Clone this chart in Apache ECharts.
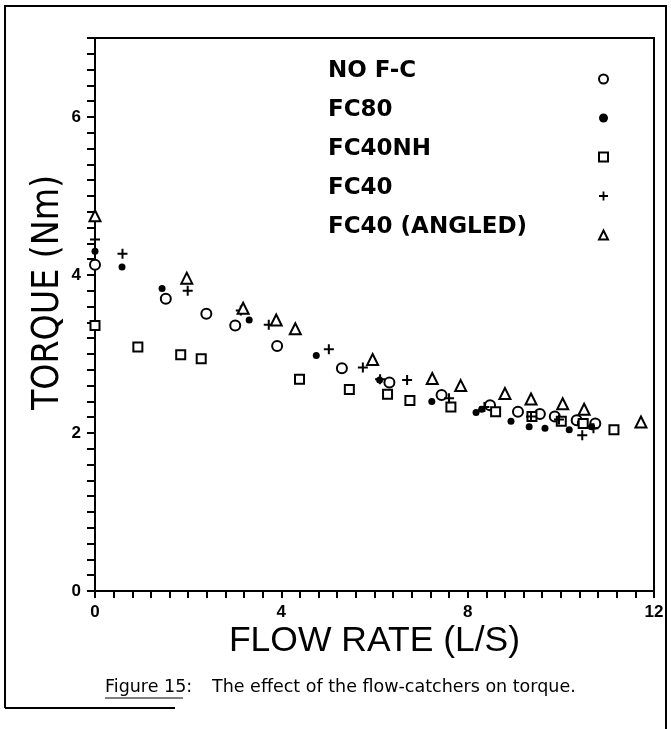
<!DOCTYPE html>
<html lang="en">
<head>
<meta charset="UTF-8">
<title>Figure 15</title>
<style>
body{ margin:0; background:#fff; }
#chart{ width:671px; height:729px; }
</style>
</head>
<body>
<div id="chart"></div>
<script src="https://cdn.jsdelivr.net/npm/echarts@6/dist/echarts.min.js"></script>
<script>
// [flow rate (L/S), torque (Nm)]
var noFc = [[0,4.13],[1.52,3.70],[2.39,3.51],[3.01,3.36],[3.91,3.10],[5.30,2.82],[6.32,2.64],
    [7.44,2.48],[8.48,2.35],[9.08,2.27],[9.55,2.24],[9.87,2.21],[10.34,2.16],[10.74,2.12]];
var fc80 = [[0,4.30],[0.58,4.10],[1.44,3.83],[3.31,3.43],[4.75,2.98],[6.11,2.67],[7.23,2.40],
    [8.18,2.26],[8.30,2.30],[8.93,2.15],[9.32,2.08],[9.66,2.06],[10.18,2.04],[10.42,2.13],[10.66,2.08]];
var fc40nh = [[0,3.36],[0.92,3.09],[1.84,2.99],[2.28,2.94],[4.39,2.68],[5.46,2.55],[6.28,2.49],
    [6.76,2.41],[7.64,2.33],[8.60,2.27],[9.38,2.21],[10.01,2.15],[10.48,2.12],[11.14,2.04]];
var fc40 = [[0,4.45],[0.59,4.27],[1.99,3.80],[3.13,3.55],[3.73,3.37],[5.02,3.06],[5.75,2.83],
    [6.12,2.68],[6.70,2.67],[7.60,2.44],[8.36,2.33],[9.36,2.21],[9.96,2.17],[10.46,1.97],[10.70,2.06]];
var fc40a = [[0,4.75],[1.97,3.96],[3.18,3.58],[3.89,3.43],[4.30,3.32],[5.96,2.93],[7.24,2.69],
    [7.85,2.60],[8.80,2.50],[9.36,2.43],[10.04,2.37],[10.50,2.30],[11.72,2.14]];

var names = ['NO F-C', 'FC80', 'FC40NH', 'FC40', 'FC40 (ANGLED)'];
var xLabels = [0, 4, 8, 12];
var yLabels = [0, 2, 4, 6];

var plus = 'path://M4,0H6V4H10V6H6V10H4V6H0V4H4Z';
var narrow = '"Liberation Sans Narrow", "DejaVu Sans Condensed", sans-serif';

function onList(list, v){
    return list.some(function(t){ return Math.abs(t - v) < 1e-6; });
}

var chart = echarts.init(document.getElementById('chart'));

var option = {
    backgroundColor: '#fff',
    animation: false,
    grid: {
        left: 95, right: 17, top: 38, bottom: 138,
        show: true, borderColor: '#000', borderWidth: 2,
        outerBoundsMode: 'none'
    },
    legend: {
        orient: 'vertical',
        left: 323, top: 55,
        align: 'right',
        itemGap: 1,
        itemWidth: 9, itemHeight: 9,
        selectedMode: false,
        data: names,
        formatter: function(n){ return '{t|' + n + '}'; },
        textStyle: {
            color: '#000',
            rich: {
                t: { width: 266, align: 'left', fontSize: 23, fontWeight: 'bold', lineHeight: 22,
                     fontFamily: 'DejaVu Sans', color: '#000', padding: [0, 0, 15, 0] }
            }
        }
    },
    xAxis: {
        type: 'value', min: 0, max: 12, interval: 0.4,
        name: 'FLOW RATE (L/S)', nameLocation: 'middle', nameGap: 32, nameMoveOverlap: false,
        nameTextStyle: { fontSize: 35.5, fontFamily: 'Liberation Sans', color: '#000' },
        axisLine: { lineStyle: { color: '#000', width: 2 } },
        axisTick: { length: 7, lineStyle: { color: '#000', width: 2 } },
        axisLabel: {
            margin: 13, fontSize: 17, fontWeight: 'bold', color: '#000', fontFamily: 'Liberation Sans',
            formatter: function(v){ return onList(xLabels, v) ? String(Math.round(v)) : ''; }
        },
        splitLine: { show: false }
    },
    yAxis: {
        type: 'value', min: 0, max: 7, interval: 0.2,
        name: 'TORQUE (Nm)', nameLocation: 'middle', nameGap: 28, nameMoveOverlap: false,
        nameTextStyle: { fontSize: 37, fontFamily: narrow, color: '#000', padding: [0, 0, 0, 44] },
        axisLine: { lineStyle: { color: '#000', width: 2 } },
        axisTick: { length: 8, lineStyle: { color: '#000', width: 2 } },
        axisLabel: {
            margin: 14, fontSize: 17, fontWeight: 'bold', color: '#000', fontFamily: 'Liberation Sans',
            formatter: function(v){ return onList(yLabels, v) ? String(Math.round(v)) : ''; }
        },
        splitLine: { show: false }
    },
    series: [
        { name: names[0], type: 'scatter', data: noFc, symbol: 'emptyCircle', symbolSize: 10,
          itemStyle: { color: '#000', borderColor: '#000', borderWidth: 2.2, opacity: 1 } },
        { name: names[1], type: 'scatter', data: fc80, symbol: 'circle', symbolSize: 7,
          itemStyle: { color: '#000', opacity: 1 } },
        { name: names[2], type: 'scatter', data: fc40nh, symbol: 'emptyRect', symbolSize: 9,
          itemStyle: { color: '#000', borderColor: '#000', borderWidth: 2.2, opacity: 1 } },
        { name: names[3], type: 'scatter', data: fc40, symbol: plus, symbolSize: 10,
          itemStyle: { color: '#000', opacity: 1 } },
        { name: names[4], type: 'scatter', data: fc40a, symbol: 'emptyTriangle', symbolSize: 11,
          itemStyle: { color: '#000', borderColor: '#000', borderWidth: 2.2, opacity: 1 } }
    ],
    graphic: [
        { type: 'polyline', shape: { points: [[5,708],[5,6],[666,6],[666,729]] },
          style: { stroke: '#000', lineWidth: 2, fill: null } },
        { type: 'line', shape: { x1: 5, y1: 708, x2: 175, y2: 708 },
          style: { stroke: '#000', lineWidth: 2 } },
        { type: 'text', left: 105, top: 678,
          style: { text: 'Figure 15:', fontSize: 17.5, fontFamily: 'DejaVu Sans', fill: '#000' } },
        { type: 'line', shape: { x1: 105, y1: 698, x2: 183, y2: 698 },
          style: { stroke: '#000', lineWidth: 1 } },
        { type: 'text', left: 212, top: 678,
          style: { text: 'The effect of the flow-catchers on torque.', fontSize: 17.5,
                   fontFamily: 'DejaVu Sans', fill: '#000' } }
    ]
};

chart.setOption(option);
</script>
</body>
</html>
